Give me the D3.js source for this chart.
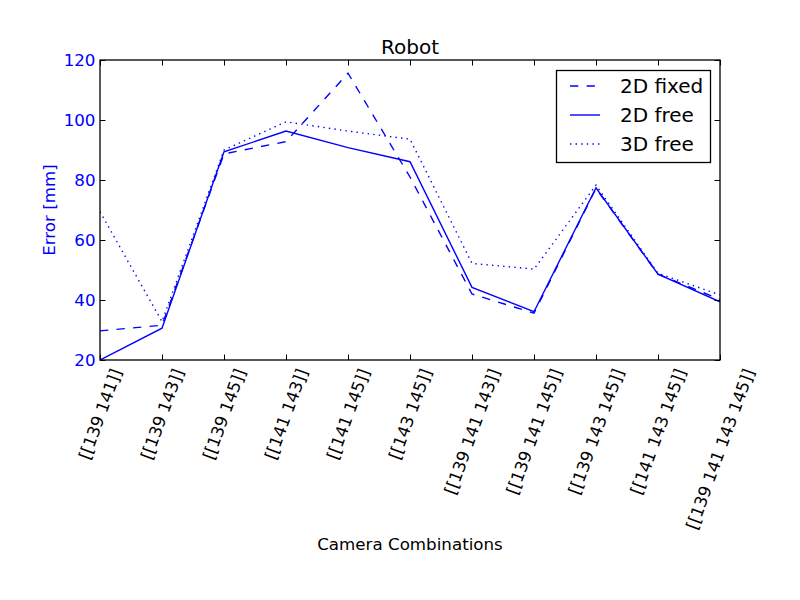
<!DOCTYPE html>
<html>
<head>
<meta charset="utf-8">
<script src="https://cdn.jsdelivr.net/npm/d3@7"></script>
<style>
body { margin: 0; background: #fff; }
svg { display: block; }
text { font-family: "DejaVu Sans", sans-serif; }
</style>
</head>
<body>
<svg id="chart" width="800" height="600"></svg>
<script>
const categories = ["[[139 141]]", "[[139 143]]", "[[139 145]]", "[[141 143]]", "[[141 145]]", "[[143 145]]",
  "[[139 141 143]]", "[[139 141 145]]", "[[139 143 145]]", "[[141 143 145]]", "[[139 141 143 145]]"];
const fixed2D = [29.7, 31.6, 88.7, 92.8, 115.6, 81.0, 42.0, 35.6, 77.2, 48.6, 40.2];
const free2D  = [20.0, 30.6, 89.4, 96.3, 90.8, 86.1, 44.2, 36.1, 77.4, 48.6, 39.4];
const free3D  = [69.4, 32.8, 90.0, 99.4, 96.3, 93.6, 52.2, 50.3, 78.3, 48.9, 41.7];
const yTicks = [20, 40, 60, 80, 100, 120];
const seriesNames = ["2D fixed", "2D free", "3D free"];

(function () {
const svg = d3.select("#chart");
const pL = 100, pR = 720, pT = 60, pB = 360;
const blue = "#0000ff";
const fs = 16.7;

const x = d3.scalePoint().domain(d3.range(categories.length)).range([pL, pR]);
const y = d3.scaleLinear().domain([20, 120]).range([pB, pT]);

const series = [
  { name: seriesNames[0], values: fixed2D, dash: "8.3,8.3" },
  { name: seriesNames[1], values: free2D, dash: null },
  { name: seriesNames[2], values: free3D, dash: "1.4,4.2" }
];

const line = d3.line().x((d, i) => x(i)).y(d => y(d));

svg.append("defs").append("clipPath").attr("id", "clip")
  .append("rect").attr("x", pL).attr("y", pT).attr("width", pR - pL).attr("height", pB - pT);

const g = svg.append("g").attr("clip-path", "url(#clip)");
series.forEach(s => {
  g.append("path").datum(s.values)
    .attr("d", line)
    .attr("fill", "none")
    .attr("stroke", blue)
    .attr("stroke-width", 1.4)
    .attr("stroke-dasharray", s.dash);
});

const tl = 5.5;
const axB = d3.axisBottom(x).tickSizeInner(-tl).tickSizeOuter(0).tickFormat("");
const axT = d3.axisTop(x).tickSizeInner(-tl).tickSizeOuter(0).tickFormat("");
const axL = d3.axisLeft(y).tickValues(yTicks).tickSizeInner(-tl).tickSizeOuter(0).tickPadding(4.5);
const axR = d3.axisRight(y).tickValues(yTicks).tickSizeInner(-tl).tickSizeOuter(0).tickFormat("");

function styleAxis(sel) {
  sel.select(".domain").remove();
  sel.selectAll(".tick line").attr("stroke", "#000").attr("stroke-width", 1);
}
svg.append("g").attr("transform", `translate(0,${pB})`).call(axB).call(styleAxis);
svg.append("g").attr("transform", `translate(0,${pT})`).call(axT).call(styleAxis);
const gl = svg.append("g").attr("transform", `translate(${pL},0)`).call(axL).call(styleAxis);
gl.selectAll(".tick text").attr("fill", blue).attr("font-size", fs);
svg.append("g").attr("transform", `translate(${pR},0)`).call(axR).call(styleAxis);

svg.append("rect").attr("x", pL).attr("y", pT).attr("width", pR - pL).attr("height", pB - pT)
  .attr("fill", "none").attr("stroke", "#000").attr("stroke-width", 1.3);

const labTop = 366;
categories.forEach((c, i) => {
  const t = svg.append("text")
    .attr("font-size", fs)
    .attr("fill", "#000")
    .attr("text-anchor", "end")
    .attr("dy", "0.35em")
    .attr("transform", `translate(${x(i)},${labTop}) rotate(-70)`)
    .text(c);
  const bb = t.node().getBoundingClientRect();
  const cx = (bb.left + bb.right) / 2;
  const dx = x(i) - cx, dy = labTop - bb.top;
  t.attr("transform", `translate(${x(i) + dx},${labTop + dy}) rotate(-70)`);
});

svg.append("text").attr("x", (pL + pR) / 2).attr("y", 54).attr("text-anchor", "middle")
  .attr("font-size", 20).attr("fill", "#000").text("Robot");
svg.append("text").attr("x", (pL + pR) / 2).attr("y", 550).attr("text-anchor", "middle")
  .attr("font-size", fs).attr("fill", "#000").text("Camera Combinations");
svg.append("text").attr("transform", `translate(55,${(pT + pB) / 2}) rotate(-90)`).attr("text-anchor", "middle")
  .attr("font-size", fs).attr("fill", blue).text("Error [mm]");

const lg = svg.append("g");
lg.append("rect").attr("x", 556.5).attr("y", 70.5).attr("width", 154).attr("height", 92)
  .attr("fill", "#fff").attr("stroke", "#000").attr("stroke-width", 1.3);
series.forEach((s, i) => {
  const yy = 86 + i * 29;
  lg.append("line").attr("x1", 570).attr("x2", 600).attr("y1", yy).attr("y2", yy)
    .attr("stroke", blue).attr("stroke-width", 1.4).attr("stroke-dasharray", s.dash);
  lg.append("text").attr("x", 620).attr("y", yy).attr("dy", "0.35em")
    .attr("font-size", 20).attr("fill", "#000").text(s.name);
});
})();
</script>
</body>
</html>
